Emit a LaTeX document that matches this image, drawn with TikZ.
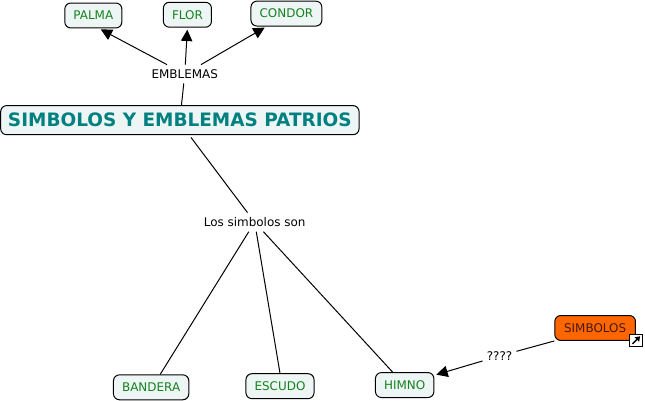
\documentclass[tikz,border=0pt]{standalone}
\usepackage{fontspec}
\setmainfont{DejaVu Sans}
\usepackage{tikz}
\usetikzlibrary{arrows.meta, positioning}
\usepackage{xcolor}
\definecolor{cPale}{RGB}{238,245,245}
\definecolor{cLeaf}{RGB}{20,130,30}
\definecolor{cTeal}{RGB}{0,128,128}
\definecolor{cOrange}{RGB}{255,102,0}
\definecolor{cInk}{RGB}{70,25,10}
\tikzset{
  basebox/.style={rectangle, rounded corners=4.5pt, draw=black, line width=0.75pt,
                  align=center, font=\fontsize{9}{10}\selectfont},
  leafnode/.style={basebox, fill=cPale, text=cLeaf, minimum height=0.66cm,
                   inner xsep=6.5pt},
  titlenode/.style={basebox, fill=cPale, text=cTeal, minimum height=0.77cm,
                    inner xsep=5.5pt, font=\fontsize{13.9}{16}\selectfont\bfseries},
  hotnode/.style={basebox, fill=cOrange, text=cInk, minimum height=0.66cm,
                  inner xsep=7pt},
  linknode/.style={inner xsep=3pt, inner ysep=3.5pt, font=\fontsize{9}{10}\selectfont},
  iconnode/.style={draw=black, line width=0.75pt, fill=white, minimum size=0.33cm,
                   inner sep=0pt},
  plainline/.style={line width=0.75pt, color=black},
  arrow/.style={-{Triangle[length=0.3cm, width=0.3cm]}, line width=0.75pt,
                color=black, shorten >=1.5pt}
}
\begin{document}
\begin{tikzpicture}[on grid]

  \useasboundingbox (0,0) rectangle (17.07,-10.61);

  \node[titlenode] (title) at (4.76,-3.18) {SIMBOLOS Y EMBLEMAS PATRIOS};

  % ── Emblemas ──
  \node[linknode, above right=1.22cm and 0.13cm of title] (emblemas) {EMBLEMAS};
  \node[leafnode, above left=1.55cm and 2.42cm of emblemas] (palma) {PALMA};
  \node[leafnode, above right=1.57cm and 0.07cm of emblemas] (flor) {FLOR};
  \node[leafnode, above right=1.60cm and 2.69cm of emblemas] (condor) {CONDOR};

  % ── Simbolos ──
  \node[linknode, below right=2.70cm and 1.98cm of title] (simbolosson) {Los simbolos son};
  \node[leafnode, below left=4.37cm and 2.74cm of simbolosson] (bandera) {BANDERA};
  \node[leafnode, below right=4.34cm and 0.67cm of simbolosson] (escudo) {ESCUDO};
  \node[leafnode, below right=4.31cm and 3.97cm of simbolosson] (himno) {HIMNO};

  \node[linknode, above right=0.77cm and 2.51cm of himno] (pregunta) {????};
  \node[hotnode, above right=0.74cm and 2.53cm of pregunta] (simbolos) {SIMBOLOS};
  \node[iconnode, below right=0.33cm and 1.08cm of simbolos] (enlace) {};

  \draw[plainline] (title) -- (emblemas);
  \draw[arrow] (emblemas) -- ([xshift=0.15cm]palma.south);
  \draw[arrow] (emblemas) -- (flor.south);
  \draw[arrow] (emblemas) -- ([xshift=-0.53cm]condor.south);

  \draw[plainline, shorten <=2pt] ([xshift=0.25cm]title.south) -- (simbolosson);
  \draw[plainline] (simbolosson) -- ([xshift=0.24cm]bandera.north);
  \draw[plainline] (simbolosson) -- (escudo.north);
  \draw[plainline] (simbolosson) -- ([xshift=-0.32cm]himno.north);

  \draw[plainline] (simbolos.south west) -- (pregunta);
  \draw[arrow] (pregunta) -- ([yshift=0.26cm]himno.east);

  \draw[-{Triangle[length=0.12cm, width=0.16cm]}, line width=1.1pt]
      ([shift={(-0.09cm,-0.09cm)}]enlace.center) -- ([shift={(0.11cm,0.11cm)}]enlace.center);

\end{tikzpicture}
\end{document}
